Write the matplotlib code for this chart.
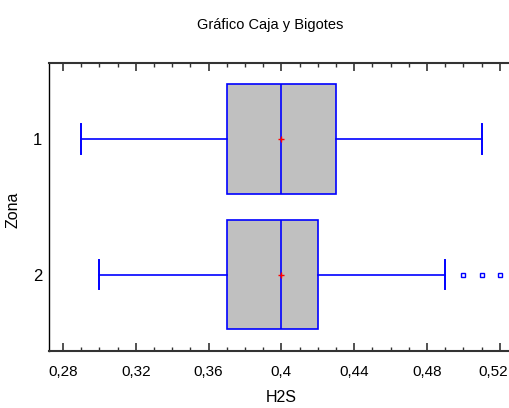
import matplotlib
matplotlib.use("Agg")
import matplotlib.pyplot as plt
from matplotlib.ticker import FixedLocator, FixedFormatter, MultipleLocator
from matplotlib.transforms import ScaledTranslation

plt.rcParams['font.family'] = ['Liberation Sans', 'DejaVu Sans']

zones = ["1", "2"]
whislo = [0.29, 0.30]
q1 = [0.37, 0.37]
med = [0.40, 0.40]
q3 = [0.43, 0.42]
whishi = [0.51, 0.49]
means = [0.40, 0.40]
fliers = [[], [0.50, 0.51, 0.52]]
xticks = [0.28, 0.32, 0.36, 0.40, 0.44, 0.48, 0.52]
xticklabels = ["0,28", "0,32", "0,36", "0,4", "0,44", "0,48", "0,52"]

W, H = 510, 408
fig = plt.figure(figsize=(W / 100, H / 100), dpi=100)
ax = fig.add_axes([49 / W, 1 - 350.7 / H, (515 - 49) / W, (350.7 - 63) / H])

stats = []
for i in range(len(zones)):
    stats.append(dict(label=zones[i], whislo=whislo[i], q1=q1[i], med=med[i],
                      q3=q3[i], whishi=whishi[i], mean=means[i], fliers=fliers[i]))

blue = '#0000ff'
ax.bxp(stats, positions=[1, 2], vert=False, widths=0.806, patch_artist=True,
       showmeans=True, capwidths=0.214,
       boxprops=dict(facecolor='#c0c0c0', edgecolor=blue, linewidth=1.2),
       medianprops=dict(color=blue, linewidth=1.2),
       whiskerprops=dict(color=blue, linewidth=1.2),
       capprops=dict(color=blue, linewidth=1.4),
       meanprops=dict(marker='+', markeredgecolor='red', markersize=5, markeredgewidth=1.0),
       flierprops=dict(marker='s', markerfacecolor='none', markeredgecolor=blue,
                       markersize=3, markeredgewidth=1.0))

ax.set_ylim(2.56, 0.44)
ax.set_xlim(0.2723, 0.2723 + (515 - 49) / 72.8 * 0.04)

ax.xaxis.set_major_locator(FixedLocator(xticks))
ax.xaxis.set_major_formatter(FixedFormatter(xticklabels))
ax.xaxis.set_minor_locator(MultipleLocator(0.01))
ax.tick_params(axis='x', which='both', direction='in', top=True, bottom=True,
               colors='#333333', labelcolor='black', labelsize=11, pad=10)
ax.tick_params(axis='x', which='major', length=6, width=1.2)
ax.tick_params(axis='x', which='minor', length=3, width=1.0)
ax.set_yticks([1, 2])
ax.set_yticklabels(zones)
ax.tick_params(axis='y', length=0, labelsize=12, pad=5)

for s in ['top', 'bottom']:
    ax.spines[s].set_color('#333333')
    ax.spines[s].set_linewidth(1.5)
ax.spines['left'].set_color('black')
ax.spines['left'].set_linewidth(1.0)
ax.spines['right'].set_visible(False)

last = ax.get_xticklabels()[-1]
last.set_ha('right')
last.set_transform(last.get_transform() + ScaledTranslation(8 / 100, 0, fig.dpi_scale_trans))

fig.text(270 / W, 1 - 25 / H, "Gráfico Caja y Bigotes", ha='center', va='center', fontsize=10.5)
fig.text(281 / W, 1 - 397 / H, "H2S", ha='center', va='center', fontsize=11.5)
fig.text(13 / W, 1 - 210 / H, "Zona", ha='center', va='center', rotation=90, fontsize=11.5)

fig.savefig("out.png", dpi=100)
